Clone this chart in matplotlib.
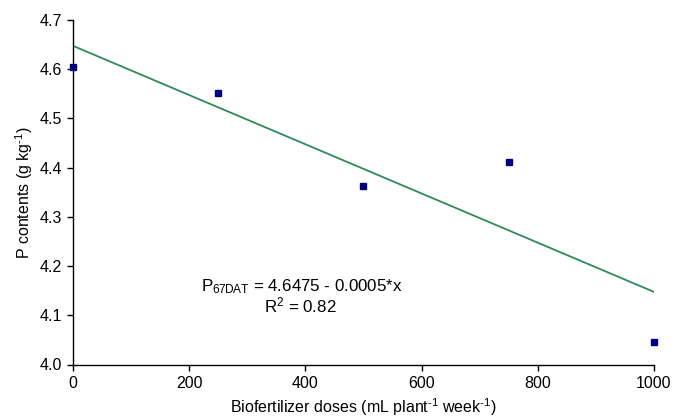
import matplotlib
matplotlib.use("Agg")
import matplotlib.pyplot as plt
import numpy as np

plt.rcParams['font.family'] = ['Liberation Sans', 'DejaVu Sans']
plt.rcParams['mathtext.fontset'] = 'custom'
plt.rcParams['mathtext.rm'] = 'Liberation Sans'
plt.rcParams['mathtext.it'] = 'Liberation Sans'

doses = [0, 250, 500, 750, 1000]
p_contents = [4.604, 4.552, 4.362, 4.412, 4.045]
intercept = 4.6475
slope = -0.0005
x_ticks = [0, 200, 400, 600, 800, 1000]
y_ticks = [4.0, 4.1, 4.2, 4.3, 4.4, 4.5, 4.6, 4.7]

FS = 11.5

fig = plt.figure(figsize=(6.88, 4.17), dpi=100)
ax = fig.add_axes([73/688, 1-364.5/417, (654-73)/688, (364.5-20)/417])

xl = np.array([0, 1000])
ax.plot(xl, intercept + slope*xl, color='#2E8B57', lw=1.3, zorder=2)
ax.plot(doses, p_contents, 's', color='#000080', ms=5, mec='#000080', zorder=3, clip_on=False)

ax.set_xlim(0, 1000)
ax.set_ylim(4.0, 4.7)
ax.set_xticks(x_ticks)
ax.set_yticks(y_ticks)
ax.set_yticklabels([f"{v:.1f}" for v in y_ticks])
for s in ['top', 'right']:
    ax.spines[s].set_visible(False)
for s in ['left', 'bottom']:
    ax.spines[s].set_linewidth(1.0)
ax.tick_params(direction='out', length=4, width=1, labelsize=FS, colors='black', pad=4)

ax.set_xlabel('Biofertilizer doses (mL plant$^{\\mathregular{\u20101}}$ week$^{\\mathregular{\u20101}}$)',
              fontsize=FS, labelpad=4)
ax.set_ylabel('P contents (g kg$^{\\mathregular{\u20101}}$)', fontsize=FS, labelpad=3)

fig.text(302/688, 1-287/417, r'P$_{\mathregular{67DAT}}$ = 4.6475 - 0.0005*x', fontsize=12.2, ha='center', va='center')
fig.text(300/688, 1-305/417, r'R$^{\mathregular{2}}$ = 0.82', fontsize=12.2, ha='center', va='center')

fig.savefig('out.png', dpi=100)
